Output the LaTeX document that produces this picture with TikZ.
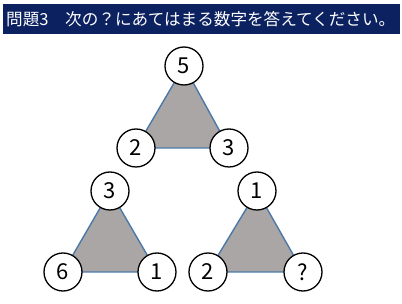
\documentclass[tikz,border=0pt]{standalone}
\usepackage{fontspec}
\usepackage{xcolor}
\newfontfamily\jpfont{Noto Sans CJK JP}
\usetikzlibrary{backgrounds}

\definecolor{bandnavy}{HTML}{0B2160}
\definecolor{trigray}{HTML}{AAA6A6}
\definecolor{edgeblue}{HTML}{4A78A8}

\begin{document}
\begin{tikzpicture}[
    x=1pt, y=-1pt,
    num/.style={circle, draw=black, line width=1.3pt, fill=white, minimum size=38pt, inner sep=0pt, font=\jpfont\fontsize{22}{22}\selectfont},
    tri/.style={fill=trigray, draw=edgeblue, line width=1.4pt, line join=round}
]
    \useasboundingbox (0,0) rectangle (402,304);
    % title band
    \fill[bandnavy] (3,4) rectangle (400,34);
    \node[anchor=west, inner sep=0pt, text=white, font=\jpfont\fontsize{16.6}{16.6}\selectfont] (title) at (6,19) {問題3　次の？にあてはまる数字を答えてください。};
    % top triangle
    \node[num] (ta) at (184,66) {5};
    \node[num] (tl) at (136,148) {2};
    \node[num] (tr) at (229,148) {3};
    % lower left triangle
    \node[num] (la) at (110,191) {3};
    \node[num] (ll) at (63,272) {6};
    \node[num] (lr) at (157,272) {1};
    % lower right triangle
    \node[num] (ra) at (257,191) {1};
    \node[num] (rl) at (208,272) {2};
    \node[num] (rr) at (303,272) {?};
    \begin{pgfonlayer}{background}
        \foreach \a/\l/\r in {ta/tl/tr, la/ll/lr, ra/rl/rr} {
            \filldraw[tri] (\a.center) -- (\l.center) -- (\r.center) -- cycle;
        }
    \end{pgfonlayer}
\end{tikzpicture}
\end{document}
